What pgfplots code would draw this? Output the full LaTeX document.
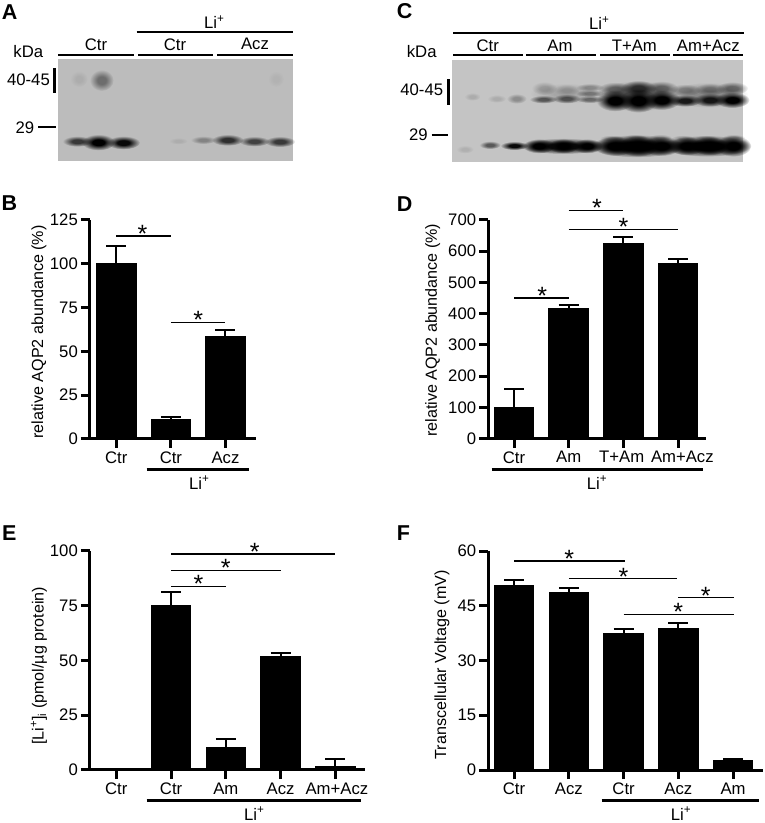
\documentclass[border=0pt]{standalone}
\usepackage{fontspec}
\setmainfont{Liberation Sans}
\usepackage{pgfplots}
\pgfplotsset{compat=1.18}
\usetikzlibrary{fadings}

\pgfdeclareradialshading{softshade}{\pgfpointorigin}{color(0bp)=(pgftransparent!0); color(9bp)=(pgftransparent!0); color(25bp)=(pgftransparent!100); color(50bp)=(pgftransparent!100)}
\pgfdeclarefading{soft}{\pgfuseshading{softshade}}

\definecolor{blotA}{HTML}{BCBCBC}
\definecolor{blotC}{HTML}{C4C4C4}

\newcommand{\lab}{\fontsize{16.7}{19}\selectfont}
\newcommand{\Lip}{Li\textsuperscript{+}}

% significance line x1, x2, y, star x
\newcommand{\sig}[4]{%
  \draw[line width=1.5pt] (axis cs:#1,#3) -- (axis cs:#2,#3);
  \node[anchor=base, inner sep=0pt, yshift=-6.3pt, font=\fontsize{25}{25}\selectfont] at (axis cs:#4,#3) {*};
}

\pgfplotsset{
  panel/.style={
    scale only axis, clip=false, ybar, bar width=39.5pt,
    axis lines=left, axis line style={-, line width=3pt},
    enlargelimits=false, ymin=0,
    tick align=outside, major tick length=9pt,
    tick style={line width=3pt, black},
    minor tick num=0,
    /pgf/number format/assume math mode=true,
    tick label style={font=\lab},
    yticklabel style={inner sep=0pt, xshift=-3pt},
    xticklabel style={inner sep=0pt, yshift=-3.5pt},
    ylabel style={font=\fontsize{16.1}{19}\selectfont, anchor=center},
    scaled y ticks=false,
  },
  bars/.style={
    fill=black, draw=black, line width=0pt,
    error bars/.cd, y dir=plus, y explicit,
    error bar style={line width=2pt, black},
    error mark options={rotate=90, mark size=10pt, line width=2pt, black},
  },
}

\begin{document}
\begin{tikzpicture}
\path[use as bounding box] (0,0) rectangle (765pt,823pt);

% B
\begin{axis}[panel, at={(90pt,384pt)}, width=166pt, height=219pt,
  xmin=-0.482, xmax=2.559, ymax=125, ytick={0,25,50,75,100,125},
  xtick={0,1,2}, xticklabels={Ctr,Ctr,Acz},
  ylabel={relative AQP2 abundance (\%)},
  ylabel style={at={(axis description cs:-0.307,0.489)}}]
\addplot[bars] table[x=x, y=y, y error=e] {
x y e
0 100 10
1 11 1.3
2 58.5 3.7
};
\sig{0}{1}{116}{0.48}
\sig{1}{2}{66.4}{1.5}
\end{axis}

% D
\begin{axis}[panel, at={(488.3pt,384.3pt)}, width=217.7pt, height=218.7pt,
  xmin=-0.47, xmax=3.51, ymax=700, ytick={0,100,...,700},
  xtick={0,1,2,3}, xticklabels={Ctr,Am,{\hspace{-3.5pt}T+Am},{\hspace{8.5pt}Am+Acz}},
  ylabel={relative AQP2 abundance (\%)},
  ylabel style={at={(axis description cs:-0.255,0.496)}}]
\addplot[bars] table[x=x, y=y, y error=e] {
x y e
0 101 59
1 418 10
2 626 19
3 560 16
};
\sig{1}{2}{730}{1.516}
\sig{1}{3}{670}{2.0}
\sig{0}{1}{450}{0.517}
\end{axis}

% E
\begin{axis}[panel, at={(90pt,53pt)}, width=275pt, height=219pt,
  xmin=-0.48, xmax=4.54, ymax=100, ytick={0,25,50,75,100},
  xtick={0,1,2,3,4}, xticklabels={Ctr,Ctr,Am,Acz,{\hspace{3pt}Am+Acz}},
  ylabel={[\Lip]\textsubscript{i} (pmol/µg protein)},
  ylabel style={at={(axis description cs:-0.186,0.476)}}]
\addplot[bars] table[x=x, y=y, y error=e] {
x y e
0 0 0
1 75 6.3
2 10.3 4
3 52 1.2
4 1.6 3.4
};
\sig{1}{4}{98.6}{2.527}
\sig{1}{3}{91.2}{2.0}
\sig{1}{2}{83.9}{1.5}
\end{axis}

% F
\begin{axis}[panel, at={(488.3pt,53pt)}, width=274.4pt, height=219pt,
  xmin=-0.47, xmax=4.54, ymax=60, ytick={0,15,30,45,60},
  xtick={0,1,2,3,4}, xticklabels={Ctr,Acz,Ctr,Acz,Am},
  ylabel={Transcellular Voltage (mV)},
  ylabel style={at={(axis description cs:-0.169,0.48)}}]
\addplot[bars] table[x=x, y=y, y error=e] {
x y e
0 50.5 1.5
1 48.5 1.5
2 37.4 1.2
3 38.8 1.4
4 2.6 0.5
};
\sig{0}{2.02}{57.2}{1.01}
\sig{1}{2.98}{52.4}{2.0}
\sig{3}{4.02}{47.2}{3.5}
\sig{2}{4.02}{42.6}{3.0}
\end{axis}

% blot A, zoom-crop units (3 per pixel)
\begin{scope}[shift={(0,823pt)}, x=0.3333pt, y=-0.3333pt]
  \fill[blotA] (173,177) rectangle (878,482);
  \foreach \x/\y/\rx/\ry/\o in {
    232/424/44/16/.7, 295/427/50/24/1, 370/428/50/20/.95,
    535/423/28/10/.08, 610/420/38/12/.3,
    683/420/48/17/.75, 763/424/46/15/.65, 840/425/46/16/.7,
    305/241/36/32/.42, 237/237/26/24/.08,
    828/237/24/24/.05}
    \fill[black, opacity=\o, path fading=soft] (\x,\y) ellipse [x radius=\rx, y radius=\ry];
\end{scope}

% blot C
\begin{scope}[shift={(385pt,823pt)}, x=0.3333pt, y=-0.3333pt]
  \fill[blotC] (200,180) rectangle (1075,487);
  \foreach \x/\y/\rx/\ry/\o in {
    760/288/125/46/.4, 970/285/120/38/.3, 545/280/110/30/.15,
    240/448/26/12/.1, 315/435/32/12/.55, 388/437/42/13/.95,
    535/438/130/24/.9,
    755/438/140/34/1, 965/438/135/32/1,
    462/438/48/22/1, 535/438/46/22/1, 607/438/46/22/1,
    690/438/62/30/1, 760/438/60/32/1, 830/438/60/30/1,
    905/438/54/28/1, 975/438/54/28/1, 1045/438/54/32/1,
    680/415/36/10/.28, 750/413/36/10/.28, 825/413/36/10/.28,
    895/415/36/10/.28, 965/415/36/10/.28, 1045/413/36/10/.28,
    262/290/24/12/.12, 335/296/28/12/.12, 395/296/30/15/.28,
    475/298/42/12/.55, 478/265/38/20/.2,
    545/296/42/14/.55, 545/270/38/18/.15,
    615/298/42/11/.45, 615/280/42/11/.35, 615/262/42/12/.28,
    690/302/56/32/1, 690/268/52/22/.45,
    760/302/58/36/1, 760/265/54/24/.7,
    830/300/56/30/1, 830/265/50/22/.45,
    900/302/50/18/.85, 900/270/48/18/.3,
    975/300/50/20/.85, 975/268/46/18/.3,
    1042/300/52/24/1, 1042/265/48/20/.45}
    \fill[black, opacity=\o, path fading=soft] (\x,\y) ellipse [x radius=\rx, y radius=\ry];
\end{scope}

% labels and rules, in picture pixels from the top left
\begin{scope}[shift={(0,823pt)}, x=1pt, y=-1pt, every node/.style={font=\lab, inner sep=0pt}]
  % panel letters
  \foreach \l/\x/\y in {A/1.7/19.3, B/1.5/210.7, C/396.7/18.3, D/396.7/211.7, E/2/540.7, F/396.7/540.7}
    \node[anchor=base west, font=\fontsize{21.5}{21.5}\selectfont\bfseries] at (\x,\y) {\l};

  % blot A header
  \foreach \a/\b/\y in {136.7/292.7/32.3, 58.3/134/54.7, 138.3/213.3/54.7, 217.3/292.7/54.7}
    \draw[line width=2.3pt] (\a,\y) -- (\b,\y);
  \node at (214.3,22) {\Lip};
  \node at (96,44.3) {Ctr};
  \node at (175,44.3) {Ctr};
  \node at (255,44.3) {Acz};
  \node at (28.3,51.7) {kDa};
  \node[anchor=east] at (50,80) {40-45};
  \node at (25,127.3) {29};
  \draw[line width=2.6pt] (54.3,68.3) -- (54.3,92.7);
  \draw[line width=2.2pt] (38.3,127.3) -- (55.7,127.3);

  % blot C header
  \foreach \a/\b/\y in {453.3/744.3/33.3, 453.3/523.3/55.3, 526/596/55.3, 600/670/55.3, 673.3/743.3/55.3}
    \draw[line width=2.3pt] (\a,\y) -- (\b,\y);
  \node at (599.3,23) {\Lip};
  \node at (487.7,46) {Ctr};
  \node at (560,46) {Am};
  \node at (634.3,46) {T+Am};
  \node at (708.3,46) {Am+Acz};
  \node at (421.7,51.7) {kDa};
  \node[anchor=east] at (443.3,90) {40-45};
  \node at (418.3,135) {29};
  \draw[line width=2.6pt] (448.3,79.3) -- (448.3,105);
  \draw[line width=2.2pt] (431.7,135) -- (448.3,135);

  % Li+ group lines under the bar charts
  \foreach \a/\b/\y/\c/\ly in {146.7/249.3/470/199.3/482.5, 491.7/702.7/470/597/482.5,
      146.7/361/801/254.3/813.5, 601.7/759/801/681/813.5} {
    \draw[line width=3pt] (\a,\y) -- (\b,\y);
    \node at (\c,\ly) {\Lip};
  }
\end{scope}
\end{tikzpicture}
\end{document}
